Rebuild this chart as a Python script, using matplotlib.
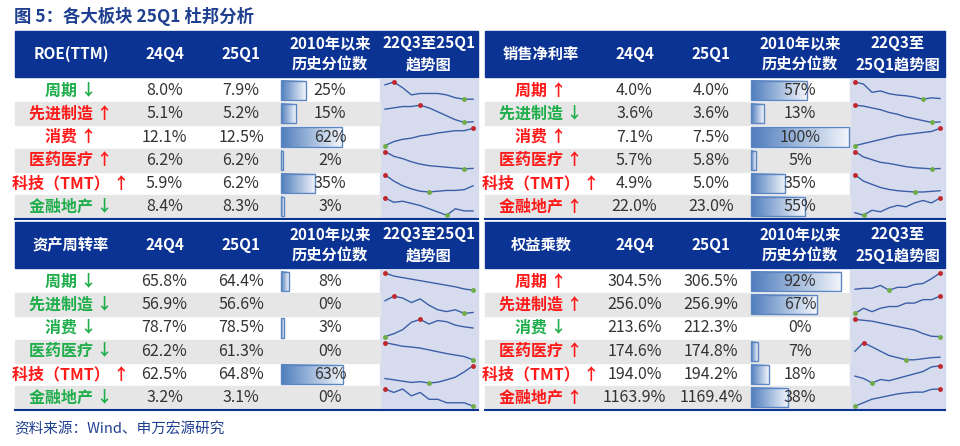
import matplotlib.pyplot as plt
import numpy as np
from matplotlib.colors import LinearSegmentedColormap

plt.rcParams["font.family"] = ["Noto Sans CJK SC", "DejaVu Sans"]

sectors = ["周期", "先进制造", "消费", "医药医疗", "科技（TMT）", "金融地产"]
headers = ["ROE(TTM)", "销售净利率", "资产周转率", "权益乘数"]
trend_titles = ["22Q3至25Q1\n趋势图", "22Q3至\n25Q1趋势图", "22Q3至25Q1\n趋势图", "22Q3至\n25Q1趋势图"]

arrows = [
    ["↓", "↑", "↑", "↑", "↑", "↓"],
    ["↑", "↓", "↑", "↑", "↑", "↑"],
    ["↓", "↓", "↓", "↓", "↑", "↓"],
    ["↑", "↑", "↓", "↑", "↑", "↑"],
]
q4_vals = [
    ["8.0%", "5.1%", "12.1%", "6.2%", "5.9%", "8.4%"],
    ["4.0%", "3.6%", "7.1%", "5.7%", "4.9%", "22.0%"],
    ["65.8%", "56.9%", "78.7%", "62.2%", "62.5%", "3.2%"],
    ["304.5%", "256.0%", "213.6%", "174.6%", "194.0%", "1163.9%"],
]
q1_vals = [
    ["7.9%", "5.2%", "12.5%", "6.2%", "6.2%", "8.3%"],
    ["4.0%", "3.6%", "7.5%", "5.8%", "5.0%", "23.0%"],
    ["64.4%", "56.6%", "78.5%", "61.3%", "64.8%", "3.1%"],
    ["306.5%", "256.9%", "212.3%", "174.8%", "194.2%", "1169.4%"],
]
pctiles = [
    [25, 15, 62, 2, 35, 3],
    [57, 13, 100, 5, 35, 55],
    [8, 0, 3, 0, 63, 0],
    [92, 67, 0, 7, 18, 38],
]
# 22Q3 .. 25Q1, 11 quarters
trends = [
    [[8.6, 8.8, 8.4, 7.9, 8.0, 8.0, 8.0, 7.9, 7.7, 7.6, 7.6],
     [6.2, 6.3, 6.4, 6.4, 6.5, 6.3, 6.0, 5.7, 5.4, 5.2, 5.25],
     [9.5, 10.2, 10.6, 10.8, 11.2, 11.4, 11.7, 11.9, 12.1, 12.1, 12.5],
     [8.9, 8.3, 8.0, 7.6, 7.3, 7.1, 7.0, 6.9, 6.8, 6.7, 6.75],
     [8.0, 7.2, 6.6, 6.2, 5.9, 5.8, 5.9, 6.0, 6.0, 6.1, 6.6],
     [9.6, 9.2, 9.3, 9.1, 8.9, 8.6, 8.3, 8.0, 8.6, 8.4, 8.4]],
    [[6.5, 6.2, 5.0, 5.2, 4.8, 4.6, 4.5, 4.3, 4.0, 4.2, 4.1],
     [5.5, 5.4, 5.2, 5.0, 4.7, 4.5, 4.2, 4.0, 3.8, 3.6, 3.65],
     [5.8, 6.0, 6.2, 6.4, 6.6, 6.8, 6.9, 7.0, 7.1, 7.2, 7.5],
     [9.0, 8.0, 7.5, 7.0, 6.8, 6.5, 6.2, 6.0, 5.9, 5.8, 5.85],
     [7.5, 6.5, 6.0, 5.5, 5.2, 5.0, 4.9, 4.8, 4.8, 4.9, 5.0],
     [20.0, 19.5, 20.5, 20.2, 21.0, 21.5, 21.2, 22.0, 22.5, 22.0, 23.0]],
    [[70, 69, 68.5, 68, 67.5, 67, 66.5, 66, 65.5, 64.8, 64.4],
     [58, 58.5, 58.3, 57.8, 58.2, 57.5, 57.0, 56.8, 57.0, 56.6, 56.7],
     [77, 77.5, 78.2, 79.5, 80, 79.2, 79.8, 79.6, 79.0, 78.7, 78.5],
     [66, 65.5, 65, 64.8, 64.5, 64, 63.5, 63, 62.6, 62.2, 61.3],
     [60, 59.5, 59, 58.5, 58.8, 58.3, 58.6, 59.5, 60.5, 62.5, 64.8],
     [3.6, 3.5, 3.6, 3.4, 3.5, 3.3, 3.3, 3.2, 3.2, 3.2, 3.1]],
    [[295, 296, 296, 299, 294, 297, 297, 300, 301, 306, 312],
     [248, 251, 249, 251, 252, 252, 254, 254, 256, 256, 258],
     [222, 221.5, 221, 220, 219, 218, 217, 216, 214, 212.5, 212.3],
     [178, 182, 180, 178, 176, 175, 174, 174, 174.5, 175, 175.2],
     [192, 191, 189, 190.5, 190, 191, 192, 193, 194, 196, 196.5],
     [1120, 1130, 1140, 1145, 1150, 1155, 1158, 1160, 1160, 1168, 1169]],
]

NAVY = "#0b3394"
RED = "#ff1a1a"
GREEN = "#1fae4b"
GREY = "#e6e6e6"
SPARK_BG = "#d6dcee"

fig = plt.figure(figsize=(9.6, 4.46), dpi=100)
ax = fig.add_axes([0, 0, 1, 1])
ax.set_xlim(0, 960)
ax.set_ylim(446, 0)
ax.axis("off")

ax.text(14, 16, "图 5：各大板块 25Q1 杜邦分析", fontsize=12.5, fontweight="bold",
        color="#1f3f8f", va="center")
ax.text(14, 429, "资料来源：Wind、申万宏源研究", fontsize=10.5, color="#1f3f8f", va="center")

grad = np.linspace(0, 1, 256).reshape(1, -1)
bar_cmap = LinearSegmentedColormap.from_list("bar", ["#4f7dbd", "#f3f6fb"])

panels = [(15, 31), (485, 31), (15, 222), (485, 222)]
head_h = 46
row_h = 23.2
for p, (x0, y0) in enumerate(panels):
    w = 463 if x0 < 100 else 460
    cols = [x0, x0 + 112, x0 + 187, x0 + 265, x0 + 365, x0 + w]
    ax.add_patch(plt.Rectangle((x0, y0), w, head_h, color=NAVY, zorder=1))
    htexts = [headers[p], "24Q4", "25Q1", "2010年以来\n历史分位数", trend_titles[p]]
    for c, t in enumerate(htexts):
        ax.text((cols[c] + cols[c + 1]) / 2, y0 + head_h / 2, t, color="white",
                fontsize=11, fontweight="bold", ha="center", va="center",
                linespacing=1.45, zorder=3)
    ytop = y0 + head_h + 2
    ax.add_patch(plt.Rectangle((cols[4], ytop), w - (cols[4] - x0), 6 * row_h,
                               color=SPARK_BG, zorder=1))
    for r in range(6):
        y = ytop + r * row_h
        if r % 2 == 1:
            ax.add_patch(plt.Rectangle((x0, y), cols[4] - x0, row_h, color=GREY, zorder=1))
        col = RED if arrows[p][r] == "↑" else GREEN
        ax.text((cols[0] + cols[1]) / 2, y + row_h / 2, sectors[r] + " " + arrows[p][r],
                color=col, fontsize=11.5, fontweight="bold", ha="center", va="center", zorder=3)
        ax.text((cols[1] + cols[2]) / 2, y + row_h / 2, q4_vals[p][r], color="#333333",
                fontsize=11.5, ha="center", va="center", zorder=3)
        ax.text((cols[2] + cols[3]) / 2, y + row_h / 2, q1_vals[p][r], color="#333333",
                fontsize=11.5, ha="center", va="center", zorder=3)
        # percentile bar
        bw = (cols[4] - cols[3] - 2) * pctiles[p][r] / 100
        if bw > 0:
            bx = cols[3] + 1
            ax.imshow(grad, cmap=bar_cmap, aspect="auto", zorder=2,
                      extent=(bx, bx + bw, y + row_h - 2, y + 2))
            ax.add_patch(plt.Rectangle((bx, y + 2), bw, row_h - 4, fill=False,
                                       edgecolor="#5b86c2", lw=1, zorder=2))
        ax.text((cols[3] + cols[4]) / 2, y + row_h / 2, f"{pctiles[p][r]}%",
                color="#333333", fontsize=11.5, ha="center", va="center", zorder=3)
        # sparkline
        s = np.array(trends[p][r], dtype=float)
        xs = np.linspace(cols[4] + 5, cols[5] - 5, len(s))
        lo, hi = s.min(), s.max()
        ys = y + row_h - 3 - (s - lo) / (hi - lo) * (row_h - 6)
        ax.plot(xs, ys, color="#3a5fa8", lw=1, zorder=3)
        ax.plot(xs[s.argmax()], ys[s.argmax()], "o", color="#c0282d", ms=2.5, zorder=4)
        ax.plot(xs[s.argmin()], ys[s.argmin()], "o", color="#70ad47", ms=2.5, zorder=4)
    ybot = ytop + 6 * row_h
    ax.plot([x0, x0 + w], [ybot + 1, ybot + 1], color=NAVY, lw=1.5, zorder=3)

fig.savefig("out.png", dpi=100)
